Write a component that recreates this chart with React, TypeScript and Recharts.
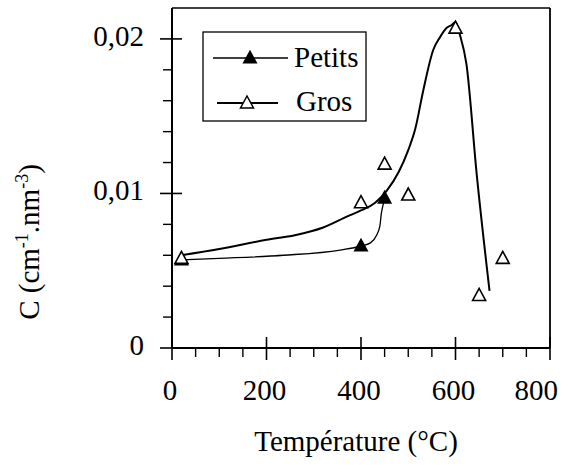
import React from 'react';
import {
  ComposedChart, Line, Scatter, XAxis, YAxis, ReferenceLine, Legend, Label,
} from 'recharts';

const FONT = "'Liberation Serif', 'DejaVu Serif'";
const txt: React.CSSProperties = { fontFamily: FONT, fontSize: 29, fill: '#000' };

// measured points
const petitsX = [20, 400, 450];
const petitsY = [0.0057, 0.0066, 0.0097];
const grosX = [20, 400, 450, 500, 600, 650, 700];
const grosY = [0.0058, 0.0094, 0.0119, 0.0099, 0.0207, 0.0034, 0.0058];

// hand-drawn fit curves
const petitsCurveX = [20, 100, 236, 356, 400, 420, 433, 440, 443, 447, 450];
const petitsCurveY = [0.0057, 0.0058, 0.006, 0.00634, 0.0066, 0.0068, 0.0073, 0.0079, 0.0087, 0.0093, 0.0097];
const grosCurveX = [20, 100, 200, 260, 320, 370, 400, 430, 455, 480, 500, 515, 532, 553, 567, 581, 592, 600, 609, 623, 645, 672];
const grosCurveY = [0.006, 0.0064, 0.007, 0.0073, 0.0078, 0.0085, 0.0089, 0.0094, 0.0102, 0.0114, 0.0128, 0.0142, 0.0167, 0.0193, 0.0201, 0.0207, 0.0209, 0.0211, 0.0203, 0.0184, 0.0112, 0.0037];

const xTicks = [0, 50, 100, 150, 200, 250, 300, 350, 400, 450, 500, 550, 600, 650, 700, 750, 800];
const yTicks = [0, 0.002, 0.004, 0.006, 0.008, 0.01, 0.012, 0.014, 0.016, 0.018, 0.02];
const xMajorTicks = [0, 200, 400, 600, 800];
const yMajorTicks = [0, 0.01, 0.02];

const zip = (xs: number[], ys: number[]) => xs.map((x, i) => ({ x, y: ys[i] }));
const petitsData = zip(petitsX, petitsY);
const grosData = zip(grosX, grosY);
const petitsCurve = zip(petitsCurveX, petitsCurveY);
const grosCurve = zip(grosCurveX, grosCurveY);

const triPath = (cx: number, cy: number) =>
  `M${cx},${cy - 7} L${cx - 6.5},${cy + 5} L${cx + 6.5},${cy + 5} Z`;

const FilledTri = (p: any) => <path d={triPath(p.cx, p.cy)} fill="#000" stroke="#000" strokeWidth={1.2} />;
const HollowTri = (p: any) => <path d={triPath(p.cx, p.cy)} fill="#fff" stroke="#000" strokeWidth={1.6} />;

const XTick = (props: any) => {
  const { x, y, payload } = props;
  const v = payload.value;
  const major = xMajorTicks.includes(v);
  const isLast = v === xTicks[xTicks.length - 1];
  return (
    <g>
      {major ? (
        <line x1={x} y1={y - 11} x2={x} y2={y + 12} stroke="#000" strokeWidth={1.6} />
      ) : (
        <line x1={x} y1={y} x2={x} y2={y + 9} stroke="#000" strokeWidth={1.4} />
      )}
      {major && (
        <text
          x={isLast ? x + 8 : x - 2}
          y={y + 52}
          textAnchor={isLast ? 'end' : 'middle'}
          fontFamily={FONT}
          style={txt}
        >
          {v}
        </text>
      )}
    </g>
  );
};

const YTick = (props: any) => {
  const { x, y, payload } = props;
  const v = payload.value;
  const major = yMajorTicks.some((m) => Math.abs(m - v) < 1e-9);
  const label = v === 0 ? '0' : v.toFixed(2).replace('.', ',');
  return (
    <g>
      {major ? (
        <line x1={x - 12} y1={y} x2={x + 10} y2={y} stroke="#000" strokeWidth={1.6} />
      ) : (
        <line x1={x - 9} y1={y} x2={x} y2={y} stroke="#000" strokeWidth={1.4} />
      )}
      {major && (
        <text x={x - 28} y={y + 7} textAnchor="end" fontFamily={FONT} style={txt}>
          {label}
        </text>
      )}
    </g>
  );
};

const YLabel = () => (
  <text transform="translate(39, 242) rotate(-90)" x={0} y={0} textAnchor="middle" fontFamily={FONT} style={txt}>
    <tspan>C (cm</tspan>
    <tspan dy={-11} style={{ fontSize: 18 }}>-1</tspan>
    <tspan dy={11}>.nm</tspan>
    <tspan dy={-11} style={{ fontSize: 18 }}>-3</tspan>
    <tspan dy={11}>)</tspan>
  </text>
);

const XLabel = () => (
  <text x={356} y={451} textAnchor="middle" fontFamily={FONT} style={txt}>
    Température (°C)
  </text>
);

const LegendBox = () => (
  <svg width={166} height={92} style={{ display: 'block' }}>
    <rect x={1} y={1} width={163} height={89} fill="#fff" stroke="#000" strokeWidth={1.3} />
    <line x1={11} y1={27} x2={86} y2={27} stroke="#000" strokeWidth={1.3} />
    <path d={triPath(48, 27)} fill="#000" stroke="#000" strokeWidth={1.2} />
    <text x={92} y={36} fontFamily={FONT} style={txt}>Petits</text>
    <line x1={15} y1={72} x2={76} y2={72} stroke="#000" strokeWidth={2} />
    <path d={triPath(45, 72)} fill="#fff" stroke="#000" strokeWidth={1.5} />
    <text x={94} y={80} fontFamily={FONT} style={txt}>Gros</text>
  </svg>
);

export default function App() {
  return (
    <div style={{ position: 'absolute', left: 0, top: 0, fontFamily: FONT }}>
      <ComposedChart width={570} height={469} margin={{ top: 8, right: 20, bottom: 0, left: 0 }} style={{ fontFamily: FONT }}>
        <XAxis
          dataKey="x"
          type="number"
          domain={[0, 800]}
          ticks={xTicks}
          interval={0}
          tickSize={0}
          tickMargin={0}
          tickLine={false}
          tick={<XTick />}
          axisLine={{ stroke: '#000', strokeWidth: 2 }}
          height={121}
        >
          <Label content={<XLabel />} />
        </XAxis>
        <YAxis
          type="number"
          domain={[0, 0.022]}
          ticks={yTicks}
          interval={0}
          tickSize={0}
          tickMargin={0}
          tickLine={false}
          tick={<YTick />}
          axisLine={{ stroke: '#000', strokeWidth: 2 }}
          width={172}
        >
          <Label content={<YLabel />} />
        </YAxis>
        <ReferenceLine y={0.022} stroke="#000" strokeWidth={1.5} />
        <ReferenceLine x={800} stroke="#000" strokeWidth={1.8} />
        <Line data={grosCurve} dataKey="y" type="monotone" stroke="#000" strokeWidth={2} dot={false} activeDot={false} isAnimationActive={false} legendType="none" />
        <Line data={petitsCurve} dataKey="y" type="monotone" stroke="#000" strokeWidth={1.3} dot={false} activeDot={false} isAnimationActive={false} legendType="none" />
        <Scatter data={petitsData} dataKey="y" name="Petits" shape={<FilledTri />} isAnimationActive={false} />
        <Scatter data={grosData} dataKey="y" name="Gros" shape={<HollowTri />} isAnimationActive={false} />
        <Legend
          layout="horizontal"
          verticalAlign="middle"
          align="center"
          content={<LegendBox />}
          wrapperStyle={{ position: 'absolute', left: 202, top: 31, width: 166, height: 92 }}
        />
      </ComposedChart>
    </div>
  );
}
